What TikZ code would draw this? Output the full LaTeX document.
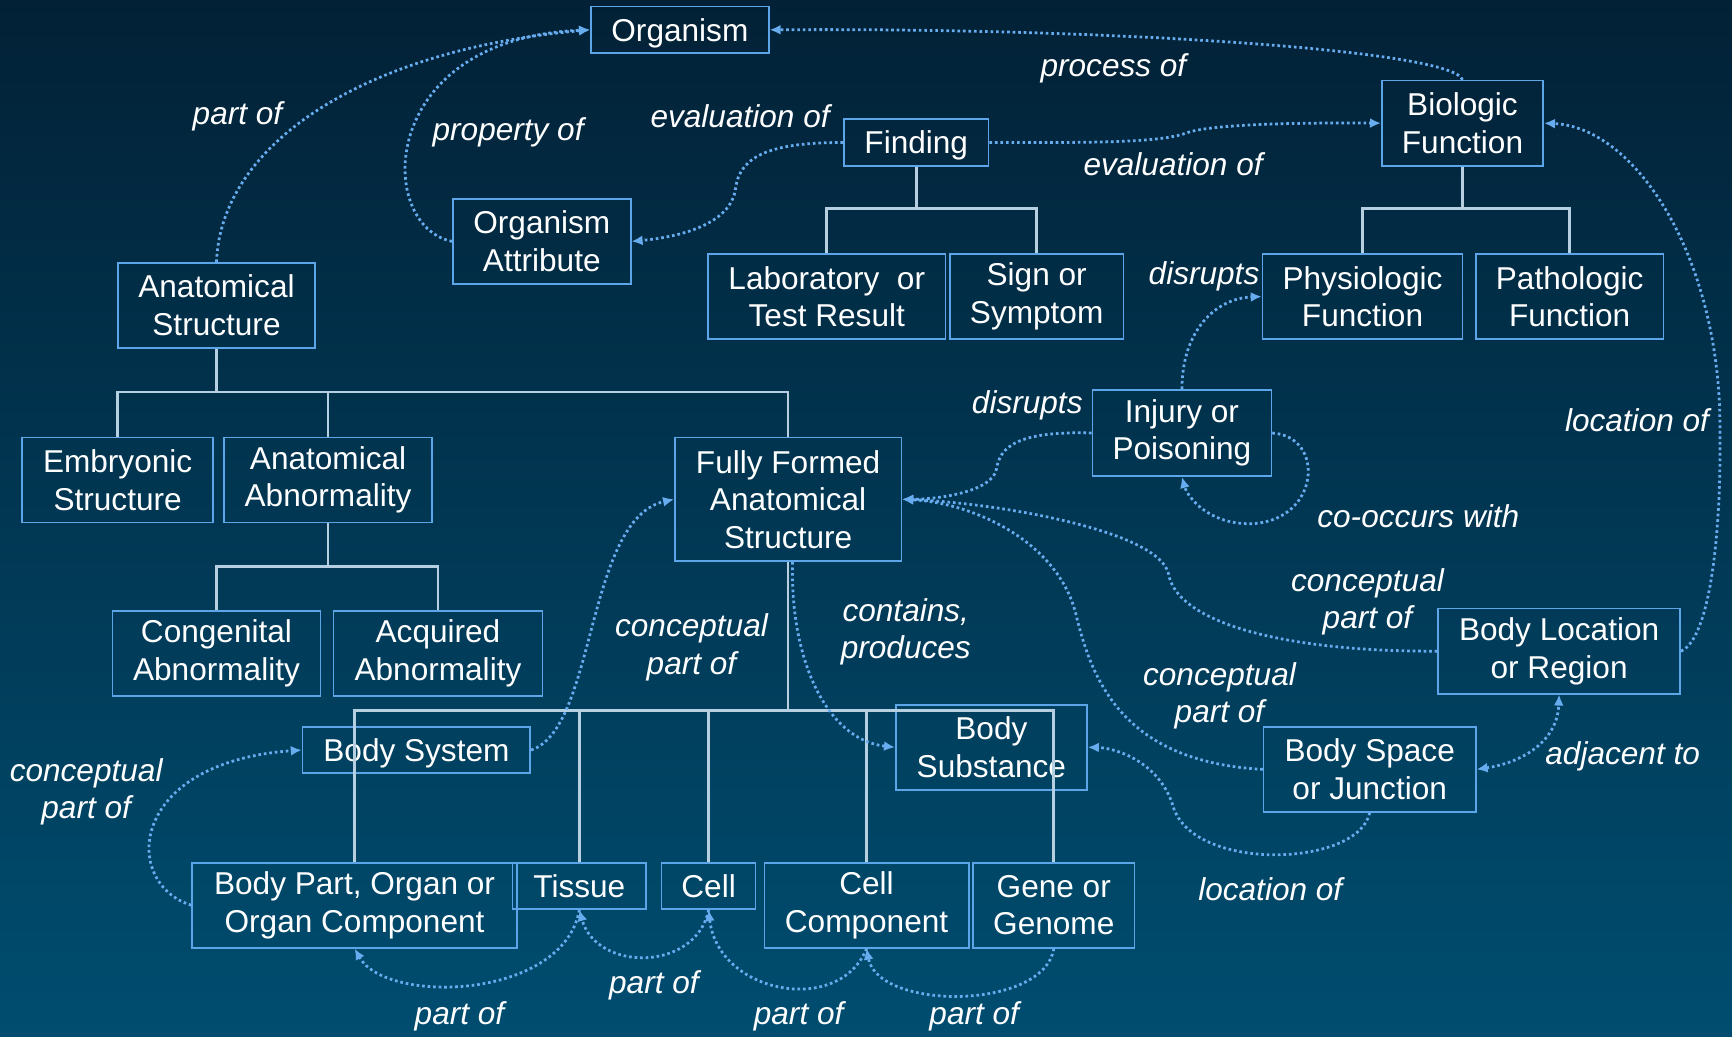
\documentclass[tikz,border=0pt]{standalone}
\usepackage{fontspec}
\setmainfont{Liberation Sans}
\usetikzlibrary{arrows.meta}
\definecolor{bgtop}{RGB}{2,33,54}
\definecolor{bgbot}{RGB}{0,77,112}
\definecolor{boxc}{RGB}{92,165,232}
\definecolor{treec}{RGB}{182,208,226}
\definecolor{relc}{RGB}{104,172,240}
\begin{document}
\begin{tikzpicture}[x=0.5pt,y=-0.5pt,
  box/.style={draw=boxc, line width=0.75pt, align=center, inner sep=0pt, text=white, font=\fontsize{14.3}{17}\selectfont},
  onebox/.style={box, text depth=0pt},
  tree/.style={draw=treec, line width=1.2pt},
  rel/.style={draw=relc, line width=1.25pt, dash pattern=on 1.2pt off 1.3pt, -{Latex[length=5pt,width=4.5pt]}},
  lbl/.style={text=white, align=center, inner sep=0pt, font=\fontsize{14.3}{17}\selectfont\itshape}]
\useasboundingbox (0,0) rectangle (1568,938);
\shade[top color=bgtop, bottom color=bgbot] (0,0) rectangle (1568,938);

% nodes
\node[onebox, minimum width=80.5pt, minimum height=21pt] (org) at (615.5,27) {Organism};
\node[box, minimum width=73pt, minimum height=38.5pt] (bio) at (1324,111.5) {Biologic\\Function};
\node[onebox, minimum width=65.5pt, minimum height=21pt] (find) at (829.5,129) {Finding};
\node[box, minimum width=80.5pt, minimum height=38.5pt] (oattr) at (490.5,218.5) {Organism\\Attribute};
\node[box, minimum width=89pt, minimum height=38.5pt] (anat) at (196,276.5) {Anatomical\\Structure};
\node[box, minimum width=107.5pt, minimum height=38.5pt] (lab) at (748.5,268.5) {Laboratory\ \ or\\Test Result};
\node[box, minimum width=78.5pt, minimum height=38.5pt] (sign) at (938.5,268.5) {Sign or\\Symptom};
\node[box, minimum width=90.5pt, minimum height=38.5pt] (phys) at (1233.5,268.5) {Physiologic\\Function};
\node[box, minimum width=85pt, minimum height=38.5pt] (path) at (1421,268.5) {Pathologic\\Function};
\node[box, minimum width=81pt, minimum height=39pt] (inj) at (1070,392) {Injury or\\Poisoning};
\node[box, minimum width=86.5pt, minimum height=38.5pt] (emb) at (106.5,434.5) {Embryonic\\Structure};
\node[box, minimum width=94pt, minimum height=38.5pt] (anabn) at (297,434.5) {Anatomical\\Abnormality};
\node[box, minimum width=102.5pt, minimum height=56pt] (full) at (713.5,452) {Fully Formed\\Anatomical\\Structure};
\node[box, minimum width=94pt, minimum height=38.5pt] (cong) at (196,591.5) {Congenital\\Abnormality};
\node[box, minimum width=94.5pt, minimum height=38.5pt] (acq) at (396.5,591.5) {Acquired\\Abnormality};
\node[box, minimum width=109.5pt, minimum height=38.5pt] (bloc) at (1411.5,589.5) {Body Location\\or Region};
\node[onebox, minimum width=103pt, minimum height=21pt] (bsys) at (377,679) {Body System};
\node[box, minimum width=86.5pt, minimum height=38.5pt] (bsub) at (897.5,676.5) {Body\\Substance};
\node[box, minimum width=96pt, minimum height=38.5pt] (bsp) at (1240,696.5) {Body Space\\or Junction};
\node[box, minimum width=147pt, minimum height=38.5pt] (bpart) at (321,819.5) {Body Part, Organ or\\Organ Component};
\node[onebox, minimum width=60.5pt, minimum height=21pt] (tis) at (524.5,802) {Tissue};
\node[onebox, minimum width=42.5pt, minimum height=21pt] (cell) at (641.5,802) {Cell};
\node[box, minimum width=92.5pt, minimum height=38.5pt] (ccomp) at (784.5,819.5) {Cell\\Component};
\node[box, minimum width=73pt, minimum height=38.5pt] (gene) at (954,819.5) {Gene or\\Genome};

% tree lines
\draw[tree] (find.south) -- (find.south |- 0,189);
\draw[tree] (lab.north) -- (lab.north |- 0,189) -- (sign.north |- 0,189) -- (sign.north);
\draw[tree] (bio.south) -- (bio.south |- 0,189);
\draw[tree] (phys.north) -- (phys.north |- 0,189) -- (path.north |- 0,189) -- (path.north);
\draw[tree] (anat.south) -- (anat.south |- 0,355);
\draw[tree] (emb.north) -- (emb.north |- 0,355) -- (full.north |- 0,355) -- (full.north);
\draw[tree] (anabn.north) -- (anabn.north |- 0,355);
\draw[tree] (anabn.south) -- (anabn.south |- 0,513);
\draw[tree] (cong.north) -- (cong.north |- 0,513) -- (acq.north |- 0,513) -- (acq.north);
\draw[tree] (full.south) -- (full.south |- 0,643);
\draw[tree] (bpart.north) -- (bpart.north |- 0,643) -- (gene.north |- 0,643) -- (gene.north);
\draw[tree] (tis.north) -- (tis.north |- 0,643);
\draw[tree] (cell.north) -- (cell.north |- 0,643);
\draw[tree] (ccomp.north) -- (ccomp.north |- 0,643);

% relations
\draw[rel] (anat.north) .. controls (200,130) and (330,45) .. (org.west);
\draw[rel] (oattr.west) .. controls (340,205) and (340,35) .. (org.west);
\draw[rel] (find.west) .. controls (700,129) and (670,140) .. (666,170) .. controls (662,205) and (610,215) .. (oattr.east);
\draw[rel] (find.east) .. controls (980,129) and (1050,130) .. (1075,120) .. controls (1100,112) and (1180,111) .. (bio.west);
\draw[rel] (bio.north) .. controls (1315,45) and (1000,25) .. (org.east);
\draw[rel] (inj.north) .. controls (1070,300) and (1100,270) .. (phys.west);
\draw[rel] (inj.west) .. controls (920,390) and (905,405) .. (902,425) .. controls (898,445) and (850,452) .. (full.east);
\draw[rel] (inj.east) .. controls (1200,395) and (1195,470) .. (1135,474) .. controls (1095,476) and (1075,450) .. (inj.south);
\draw[rel] (bloc.west) .. controls (1150,590) and (1065,560) .. (1058,520) .. controls (1050,480) and (900,455) .. (full.east);
\draw[rel] (bsp.west) .. controls (1020,690) and (990,620) .. (975,560) .. controls (960,490) and (880,455) .. (full.east);
\draw[rel] (bloc.east) .. controls (1545,580) and (1559,500) .. (1557,380) .. controls (1555,230) and (1480,115) .. (bio.east);
\draw[rel, {Latex[length=5pt,width=4.5pt]}-{Latex[length=5pt,width=4.5pt]}] (bsp.east) .. controls (1380,690) and (1410,670) .. (bloc.south);
\draw[rel] (bsp.south) .. controls (1230,785) and (1080,790) .. (1062,730) .. controls (1050,690) and (1010,677) .. (bsub.east);
\draw[rel] ([xshift=2pt]full.south) .. controls (715,600) and (750,670) .. (bsub.west);
\draw[rel] (bsys.east) .. controls (540,660) and (530,470) .. (full.west);
\draw[rel] (bpart.west) .. controls (110,800) and (115,690) .. (bsys.west);
\draw[rel] (tis.south) .. controls (510,905) and (350,910) .. (bpart.south);
\draw[rel] (cell.south) .. controls (630,880) and (540,880) .. (tis.south);
\draw[rel] (ccomp.south) .. controls (760,920) and (650,900) .. (cell.south);
\draw[rel] (gene.south) .. controls (945,915) and (795,915) .. (ccomp.south);

% labels
\node[lbl] (l1) at (215,105) {part of};
\node[lbl] (l2) at (460,120) {property of};
\node[lbl] (l3) at (670,105) {evaluation of};
\node[lbl] (l4) at (1008,62) {process of};
\node[lbl] (l5) at (1062,149) {evaluation of};
\node[lbl] (l6) at (1090,250) {disrupts};
\node[lbl] (l7) at (930,367) {disrupts};
\node[lbl] (l8) at (1482,380) {location of};
\node[lbl] (l9) at (1284,467) {co-occurs with};
\node[lbl] (l10) at (1238,545) {conceptual\\part of};
\node[lbl] (l11) at (820,572) {contains,\\produces};
\node[lbl] (l12) at (626,586) {conceptual\\part of};
\node[lbl] (l13) at (1104,630) {conceptual\\part of};
\node[lbl] (l14) at (1469,685) {adjacent to};
\node[lbl] (l15) at (78,717) {conceptual\\part of};
\node[lbl] (l16) at (1150,805) {location of};
\node[lbl] (l17) at (416,920) {part of};
\node[lbl] (l18) at (592,892) {part of};
\node[lbl] (l19) at (723,920) {part of};
\node[lbl] (l20) at (882,920) {part of};
\end{tikzpicture}
\end{document}
